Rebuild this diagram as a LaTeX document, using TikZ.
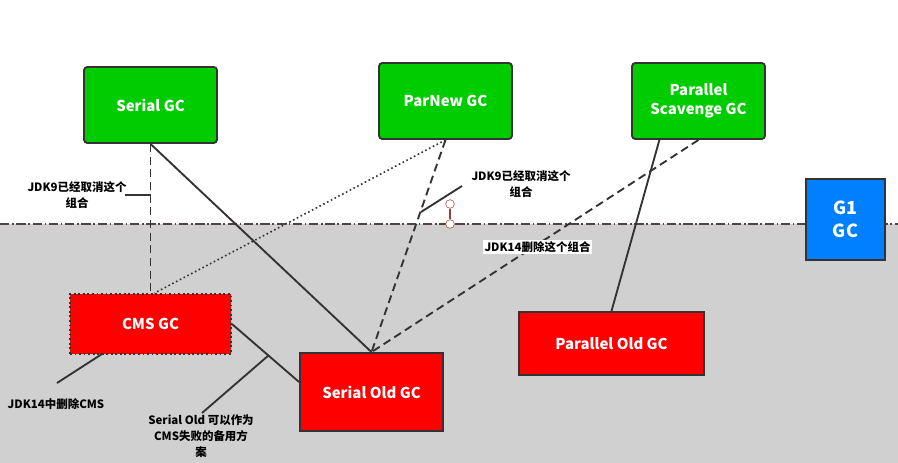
\documentclass[tikz,border=0pt]{standalone}
\usepackage{fontspec}
\setmainfont{Noto Sans CJK SC}
\usetikzlibrary{calc}

\definecolor{gcgreen}{RGB}{0,204,0}
\definecolor{gcred}{RGB}{255,0,0}
\definecolor{gcblue}{RGB}{0,127,255}
\definecolor{oldgray}{RGB}{208,208,208}
\definecolor{boxline}{RGB}{51,51,51}
\definecolor{handle}{RGB}{160,60,60}
\definecolor{divider}{RGB}{85,65,65}

\tikzset{
    gcbox/.style={draw=boxline, line width=1.4pt, inner sep=0pt,
        text=white, align=center, font=\bfseries\fontsize{11.2}{14}\selectfont},
    young/.style={gcbox, fill=gcgreen, rounded corners=2.5pt,
        minimum width=99.75pt, minimum height=57pt},
    note/.style={align=center, font=\bfseries\fontsize{8.6}{12}\selectfont},
    link/.style={draw=boxline, line width=1.4pt},
    dashlink/.style={link, dash pattern=on 6pt off 3.5pt},
}

\begin{document}
\begin{tikzpicture}[x=0.75pt,y=-0.75pt]
    \useasboundingbox (0,0) rectangle (898,463);
    % old generation area
    \fill[oldgray] (0,224) rectangle (898,463);
    \draw[divider, line width=1.2pt,
        dash pattern=on 7pt off 2pt on 1.2pt off 2pt]
        (0,224) -- (898,224);

    % young generation collectors
    \node[young] (serial) at (150.5,105) {Serial GC};
    \node[young] (parnew) at (445.5,101) {ParNew GC};
    \node[young] (scav) at (698.5,101) {Parallel\\Scavenge GC};

    % old generation collectors
    \node[gcbox, fill=gcred, dotted,
        minimum width=120.75pt, minimum height=45pt] (cms) at (150.5,324) {CMS GC};
    \node[gcbox, fill=gcred,
        minimum width=107.25pt, minimum height=58.5pt] (serialold) at (371.5,392) {Serial Old GC};
    \node[gcbox, fill=gcred,
        minimum width=138.75pt, minimum height=47.25pt] (parold) at (611.5,343.5) {Parallel Old GC};

    % G1
    \node[gcbox, fill=gcblue, font=\bfseries\fontsize{13.5}{17}\selectfont,
        minimum width=59.25pt, minimum height=60.75pt] (g1) at (845.5,219.5) {G1\\GC};

    % combinations
    \draw[dashlink] (serial.south) -- (cms.north);
    \draw[link] (serial.south) -- (serialold.north);
    \draw[link, line width=1.2pt, dotted] (parnew.south) -- ([xshift=3pt]cms.north);
    \draw[dashlink] (parnew.south) -- (serialold.north);
    \draw[dashlink] (scav.south) -- (serialold.north);
    \draw[link] ($(scav.south west)!0.21!(scav.south east)$) -- (parold.north);
    \draw[link] (cms.east) -- ([yshift=7.5pt]serialold.west);

    % notes
    \node[note] (n9a) at (77,195) {JDK9已经取消这个\\组合};
    \coordinate (n9aend) at (125,195);
    \draw[link] (n9aend) -- (n9aend -| serial.south);

    \node[note] (n9b) at (521,184) {JDK9已经取消这个\\组合};
    \coordinate (n9bstart) at (462,186);
    \coordinate (n9bend) at (421,212);
    \draw[link] (n9bstart) -- (n9bend);

    \node[note, fill=white, inner sep=1pt] (n14) at (537.5,247) {JDK14删除这个组合};

    \node[note] (ncms) at (56,404) {JDK14中删除CMS};
    \coordinate (ncmsstart) at (57,383);
    \coordinate (ncmsend) at (102,354);
    \draw[link] (ncmsstart) -- (ncmsend);

    \node[note] (nbackup) at (201,436) {Serial Old 可以作为\\CMS失败的备用方\\案};
    \coordinate (nbackupstart) at (202,413);
    \coordinate (nbackupend) at (269,355);
    \draw[link] (nbackupstart) -- (nbackupend);

    % selection handle
    \node[draw=handle, fill=white, circle, inner sep=0pt, minimum size=6.5pt] (hta) at (450,204) {};
    \node[draw=handle, fill=white, circle, inner sep=0pt, minimum size=6.5pt] (htb) at (450,224) {};
    \draw[handle, line width=0.9pt] (hta) -- (htb);
\end{tikzpicture}
\end{document}
